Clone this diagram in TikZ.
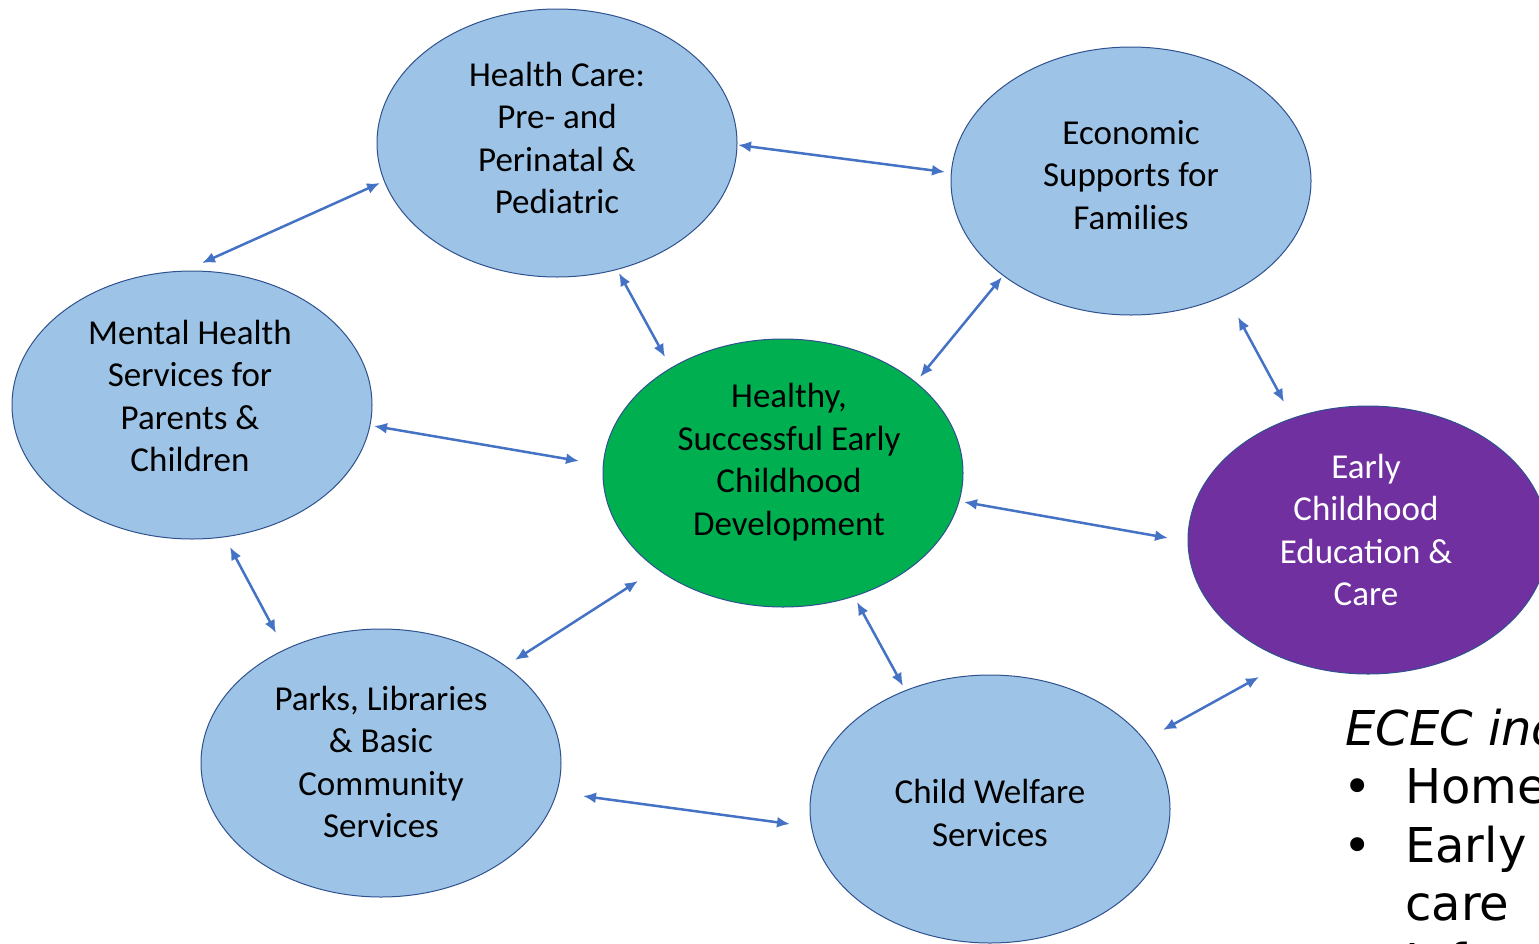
\documentclass[tikz,border=0pt]{standalone}
\usepackage{fontspec}
\setmainfont{Carlito}
\newfontfamily\verd{DejaVu Sans}
\usetikzlibrary{arrows.meta,shapes.geometric}
\definecolor{lb}{HTML}{9DC3E6}
\definecolor{bd}{HTML}{2F528F}
\definecolor{gr}{HTML}{00B050}
\definecolor{pu}{HTML}{7030A0}
\definecolor{ar}{HTML}{4472C4}
\begin{document}
\begin{tikzpicture}[x=1pt,y=-1pt,
  ell/.style={draw=bd, line width=1pt, ellipse, minimum width=360pt, minimum height=268pt, inner sep=0pt},
  txt/.style={align=center, font=\fontsize{35}{42.5}\selectfont, inner sep=0pt},
  side/.style={anchor=base west, inner sep=0pt, font=\verd\fontsize{48}{58}\selectfont},
  link/.style={ar, line width=2.5pt, {Latex[length=13pt,width=11pt]}-{Latex[length=13pt,width=11pt]}}]
\useasboundingbox (0,0) rectangle (1539,943);
\clip (0,0) rectangle (1539,943);
% ellipses
\node[ell, fill=lb] (hc) at (557,143) {};
\node[ell, fill=lb] (ec) at (1131,181) {};
\node[ell, fill=lb] (mh) at (192,405) {};
\node[ell, fill=gr] (ce) at (783,473) {};
\node[ell, fill=pu] (ee) at (1368,540) {};
\node[ell, fill=lb] (pk) at (381,763) {};
\node[ell, fill=lb] (cw) at (990,809) {};
% texts
\node[txt] (hct) at (557,138) {Health Care:\\Pre- and\\Perinatal \&\\Pediatric};
\node[txt] (ect) at (1131,175) {Economic\\Supports for\\Families};
\node[txt] (mht) at (190,396) {Mental Health\\Services for\\Parents \&\\Children};
\node[txt] (cet) at (789,462) {Healthy,\\Successful Early\\Childhood\\Development};
\node[txt, text=white] (eet) at (1366,530) {Early\\Childhood\\Education \&\\Care};
\node[txt] (pkt) at (381,762) {Parks, Libraries\\\& Basic\\Community\\Services};
\node[txt] (cwt) at (990,813) {Child Welfare\\Services};
% side text
\node[side, font=\verd\itshape\fontsize{48}{58}\selectfont] (s0) at (1345,745) {ECEC includes:};
\node[side] (b1) at (1343,803) {\textbullet};
\node[side] (s1) at (1405,803) {Home visiting};
\node[side] (b2) at (1343,862) {\textbullet};
\node[side] (s2) at (1405,862) {Early};
\node[side] (s3) at (1405,920) {care};
\node[side] (s4) at (1405,978) {Infant};
% arrow endpoints
\coordinate (a1) at (380,183); \coordinate (a2) at (202,263);
\coordinate (b1a) at (738,145); \coordinate (b2a) at (945,172);
\coordinate (c1) at (619,273); \coordinate (c2) at (665,357);
\coordinate (d1) at (1002,277); \coordinate (d2) at (920,377);
\coordinate (e1) at (1238,317); \coordinate (e2) at (1284,402);
\coordinate (f1) at (374,426); \coordinate (f2) at (579,461);
\coordinate (g1) at (230,547); \coordinate (g2) at (276,633);
\coordinate (h1) at (964,502); \coordinate (h2) at (1168,538);
\coordinate (i1) at (638,581); \coordinate (i2) at (515,660);
\coordinate (j1) at (857,602); \coordinate (j2) at (903,686);
\coordinate (k1) at (583,796); \coordinate (k2) at (790,824);
\coordinate (l1) at (1259,677); \coordinate (l2) at (1163,730);
\draw[link] (a1) -- (a2);
\draw[link] (b1a) -- (b2a);
\draw[link] (c1) -- (c2);
\draw[link] (d1) -- (d2);
\draw[link] (e1) -- (e2);
\draw[link] (f1) -- (f2);
\draw[link] (g1) -- (g2);
\draw[link] (h1) -- (h2);
\draw[link] (i1) -- (i2);
\draw[link] (j1) -- (j2);
\draw[link] (k1) -- (k2);
\draw[link] (l1) -- (l2);
\end{tikzpicture}
\end{document}
